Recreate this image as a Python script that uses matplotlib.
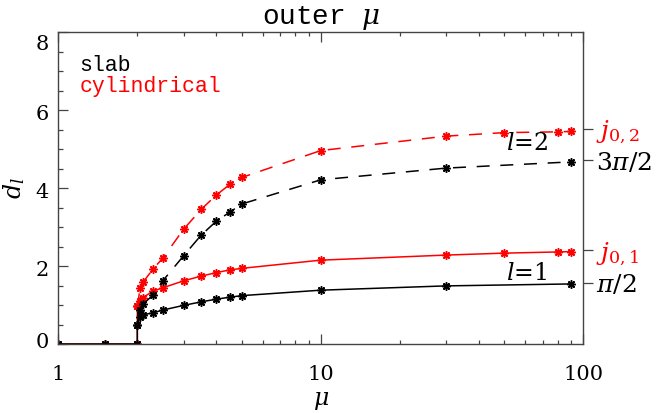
import numpy as np
import matplotlib
matplotlib.use("Agg")
import matplotlib.pyplot as plt
from matplotlib.transforms import ScaledTranslation

plt.rcParams['font.family'] = ['DejaVu Serif']
plt.rcParams['mathtext.fontset'] = 'dejavuserif'

# ---- data ----
mu_slab = [1, 1.5, 2, 2, 2.05, 2.1, 2.3, 2.5, 3, 3.5, 4, 4.5, 5, 10, 30, 90]
d_slab_l1 = [0, 0, 0, 0.49, 0.68, 0.75, 0.80, 0.87, 0.99, 1.08, 1.15, 1.20, 1.24, 1.38, 1.49, 1.54]
mu_slab2 = [2, 2.05, 2.1, 2.3, 2.5, 3, 3.5, 4, 4.5, 5, 10, 30, 90]
d_slab_l2 = [0.49, 0.87, 1.02, 1.26, 1.62, 2.26, 2.79, 3.15, 3.38, 3.59, 4.21, 4.51, 4.67]

mu_cyl = [1, 1.5, 2, 2, 2.05, 2.1, 2.3, 2.5, 3, 3.5, 4, 4.5, 5, 10, 30, 50, 80, 90]
d_cyl_l1 = [0, 0, 0, 0.97, 1.10, 1.19, 1.36, 1.44, 1.62, 1.74, 1.83, 1.90, 1.94, 2.15, 2.28, 2.33, 2.36, 2.37]
mu_cyl2 = [2, 2.05, 2.1, 2.3, 2.5, 3, 3.5, 4, 4.5, 5, 10, 30, 50, 80, 90]
d_cyl_l2 = [0.97, 1.43, 1.58, 1.93, 2.20, 2.94, 3.45, 3.82, 4.09, 4.27, 4.96, 5.33, 5.42, 5.44, 5.45]

x_ticks = [1, 10, 100]
x_ticklabels = ['1', '10', '100']
y_ticks = [0, 2, 4, 6, 8]
y_ticklabels = ['0', '2', '4', '6', '8']
asym_values = [np.pi / 2, 2.404826, 3 * np.pi / 2, 5.520078]
asym_labels = [r'$\pi/2$', r'$j_{0,1}$', r'$3\pi/2$', r'$j_{0,2}$']
asym_colors = ['black', 'red', 'black', 'red']

W, H = 664, 413
fig = plt.figure(figsize=(W / 100, H / 100), dpi=100)
ax = fig.add_axes([58.3 / W, (H - 344) / H, 525 / W, 312 / H])

mk = dict(marker=(8, 2, 0), markersize=6, markeredgewidth=1.1)
ax.plot(mu_cyl, d_cyl_l1, color='red', lw=1.1, **mk)
ax.plot(mu_cyl2, d_cyl_l2, color='red', lw=1.1, dashes=(8.5, 7), **mk)
ax.plot(mu_slab, d_slab_l1, color='black', lw=1.1, **mk)
ax.plot(mu_slab2, d_slab_l2, color='black', lw=1.1, dashes=(8.5, 7), **mk)

ax.set_xscale('log')
ax.set_xlim(1, 100)
ax.set_ylim(0, 8)
ax.set_xticks(x_ticks)
ax.set_xticklabels(x_ticklabels)
ax.set_yticks(y_ticks)
ax.set_yticklabels(y_ticklabels)
ax.yaxis.set_minor_locator(matplotlib.ticker.MultipleLocator(0.5))
ax.xaxis.set_minor_locator(matplotlib.ticker.LogLocator(base=10, subs=np.arange(2, 10)))
ax.xaxis.set_minor_formatter(matplotlib.ticker.NullFormatter())

axcol = '#444444'
for s in ax.spines.values():
    s.set_color(axcol)
    s.set_linewidth(1.0)
ax.tick_params(which='both', direction='in', top=True, right=True, color=axcol, width=0.9)
ax.tick_params(axis='x', which='major', length=7, labelsize=15, pad=15)
ax.tick_params(axis='x', which='minor', length=3)
ax.tick_params(axis='y', which='major', length=7, labelsize=15, pad=7)
ax.tick_params(axis='y', which='minor', length=3.6)

# IDL-style label nudges
offs = {0: 3, 8: -10}
for val, lab in zip(y_ticks, ax.get_yticklabels()):
    dy = offs.get(val, -3)
    lab.set_transform(lab.get_transform() + ScaledTranslation(0, dy / 100, fig.dpi_scale_trans))

# right-hand asymptote labels
ax2 = ax.twinx()
ax2.set_ylim(0, 8)
ax2.set_yticks(asym_values)
ax2.set_yticklabels(asym_labels)
for lab, c in zip(ax2.get_yticklabels(), asym_colors):
    lab.set_color(c)
ax2.tick_params(axis='y', direction='out', length=7, width=0.9, color=axcol, labelsize=18, pad=2)
for s in ax2.spines.values():
    s.set_visible(False)

mono = ['Liberation Mono', 'DejaVu Sans Mono']
ax.set_title(r'outer $\mu$', fontsize=20, pad=6, family=mono)
ax.set_xlabel(r'$\mu$', fontsize=17, labelpad=4)
ax.set_ylabel(r'$d_l$', fontsize=17, labelpad=6)

ax.text(0.04, 0.893, 'slab', transform=ax.transAxes, fontsize=15.5, color='black',
        va='center', ha='left', family=mono)
ax.text(0.04, 0.824, 'cylindrical', transform=ax.transAxes, fontsize=15.5, color='red',
        va='center', ha='left', family=mono)
ax.text(61, 5.15, r'$l$=2', fontsize=17, ha='center', va='center')
ax.text(61, 1.8, r'$l$=1', fontsize=17, ha='center', va='center')

fig.savefig('out.png', dpi=100)
